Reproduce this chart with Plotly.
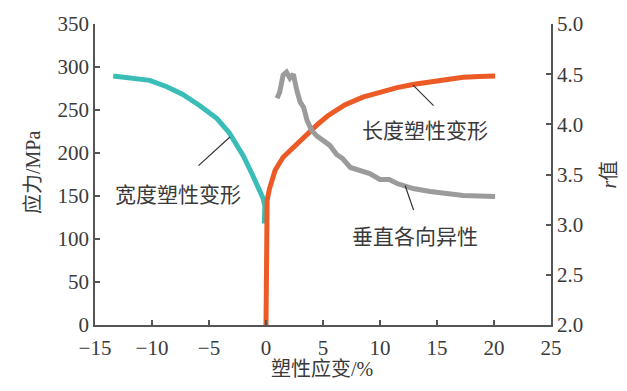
import plotly.graph_objects as go

# ---- data ----
width_strain = [-13.4, -11.7, -10.2, -8.7, -7.3, -5.8, -4.3, -3.2, -2.0, -1.2, -0.6, -0.25, -0.1, -0.15]
width_stress = [289.5, 287, 284.5, 277, 268, 255, 240, 223, 197, 175, 158, 147, 138, 118]

length_strain = [0, 0, 0.02, 0.1, 0.3, 0.8, 1.5, 2.3, 3.0, 3.7, 4.5, 5.4, 6.9, 8.5, 10.0, 11.5, 13.0, 14.4, 16.0, 17.3, 18.7, 20.1]
length_stress = [0, 100, 130, 145, 158, 180, 195, 205, 215, 224, 233, 243, 256, 265, 271, 276, 280, 283, 286, 288, 289, 289.5]

rv_strain = [0.97, 1.2, 1.5, 1.8, 2.1, 2.4, 2.7, 3.0, 3.3, 3.6, 4.0, 4.5, 5.0, 5.6, 6.2, 6.7, 7.4, 8.2,
             9.1, 10.0, 10.8, 11.5, 12.2, 12.9, 14.4, 15.9, 17.3, 18.7, 20.1]
rv_value = [4.26, 4.32, 4.49, 4.52, 4.46, 4.50, 4.34, 4.22, 4.17, 4.04, 3.94, 3.88, 3.84, 3.79, 3.70, 3.66,
            3.57, 3.54, 3.51, 3.45, 3.45, 3.41, 3.39, 3.36, 3.33, 3.31, 3.29, 3.285, 3.28]

x_ticks = [-15, -10, -5, 0, 5, 10, 15, 20, 25]
y1_ticks = [0, 50, 100, 150, 200, 250, 300, 350]
y2_ticks = [2.0, 2.5, 3.0, 3.5, 4.0, 4.5, 5.0]
y2_ticklabels = ["2.0", "2.5", "3.0", "3.5", "4.0", "4.5", "5.0"]

CYAN = "#3bbdb7"
ORANGE = "#ec5a26"
GRAY = "#9b9b9b"
AXIS = "#555555"
TXT = "#3a3a3a"
SERIF_ONLY = "Liberation Serif"
SERIF = "Liberation Serif, Noto Sans CJK SC"
CJK = "Noto Sans CJK SC"

fig = go.Figure()
fig.add_trace(go.Scatter(x=width_strain, y=width_stress, mode="lines",
                         line=dict(color=CYAN, width=5), showlegend=False))
fig.add_trace(go.Scatter(x=length_strain, y=length_stress, mode="lines",
                         line=dict(color=ORANGE, width=5), showlegend=False))
fig.add_trace(go.Scatter(x=rv_strain, y=rv_value, mode="lines", yaxis="y2",
                         line=dict(color=GRAY, width=5), showlegend=False))

axis_common = dict(showline=True, linecolor=AXIS, linewidth=1.5, ticks="inside",
                   ticklen=5, tickwidth=1.5, tickcolor=AXIS, showgrid=False, zeroline=False,
                   automargin=False,
                   tickfont=dict(family=SERIF_ONLY, size=21, color=TXT))

# the page body has an 8px margin, so the figure is sized/offset to compensate
fig.update_layout(
    template="none",
    width=619, height=383,
    margin=dict(l=87, r=76, t=16, b=66),
    font=dict(family=SERIF_ONLY),
    paper_bgcolor="white", plot_bgcolor="white",
    xaxis=dict(range=[-15, 25], tickvals=x_ticks, ticklabelstandoff=3, **axis_common),
    yaxis=dict(range=[0, 350], tickvals=y1_ticks, **axis_common),
    yaxis2=dict(range=[2.0, 5.0], tickvals=y2_ticks, ticktext=y2_ticklabels,
                overlaying="y", side="right", anchor="x", **axis_common),
)

ann = []
# leader lines
ann.append(dict(x=-3.16, y=218.6, xref="x", yref="y", text="", showarrow=True,
                arrowhead=0, arrowwidth=1.2, arrowcolor="#333", ax=-33, ay=30))
ann.append(dict(x=12.9, y=279, xref="x", yref="y", text="", showarrow=True,
                arrowhead=0, arrowwidth=1.2, arrowcolor="#333", ax=22, ay=22))
ann.append(dict(x=12.2, y=3.39, xref="x", yref="y2", text="", showarrow=True,
                arrowhead=0, arrowwidth=1.2, arrowcolor="#333", ax=9, ay=26))
# labels
ann.append(dict(x=-7.7, y=153.5, xref="x", yref="y", text="宽度塑性变形", showarrow=False,
                xanchor="center", yanchor="middle",
                font=dict(family=CJK, size=21, color=TXT)))
ann.append(dict(x=13.95, y=228, xref="x", yref="y", text="长度塑性变形", showarrow=False,
                xanchor="center", yanchor="middle",
                font=dict(family=CJK, size=21, color=TXT)))
ann.append(dict(x=13.07, y=2.90, xref="x", yref="y2", text="垂直各向异性", showarrow=False,
                xanchor="center", yanchor="middle",
                font=dict(family=CJK, size=21, color=TXT)))
# axis titles
ann.append(dict(x=-0.136, y=0.508, xref="paper", yref="paper", text="应力/MPa", textangle=-90,
                xanchor="center", yanchor="middle",
                showarrow=False, font=dict(family=SERIF, size=20, color=TXT)))
ann.append(dict(x=1.125, y=0.50, xref="paper", yref="paper", text="<i>r</i>值", textangle=-90,
                xanchor="center", yanchor="middle",
                showarrow=False, font=dict(family=SERIF, size=20, color=TXT)))
ann.append(dict(x=0.498, y=-0.145, xref="paper", yref="paper", text="塑性应变/%",
                xanchor="center", yanchor="middle",
                showarrow=False, font=dict(family=SERIF, size=20, color=TXT)))
fig.update_layout(annotations=ann)

fig.write_html("out.html")
